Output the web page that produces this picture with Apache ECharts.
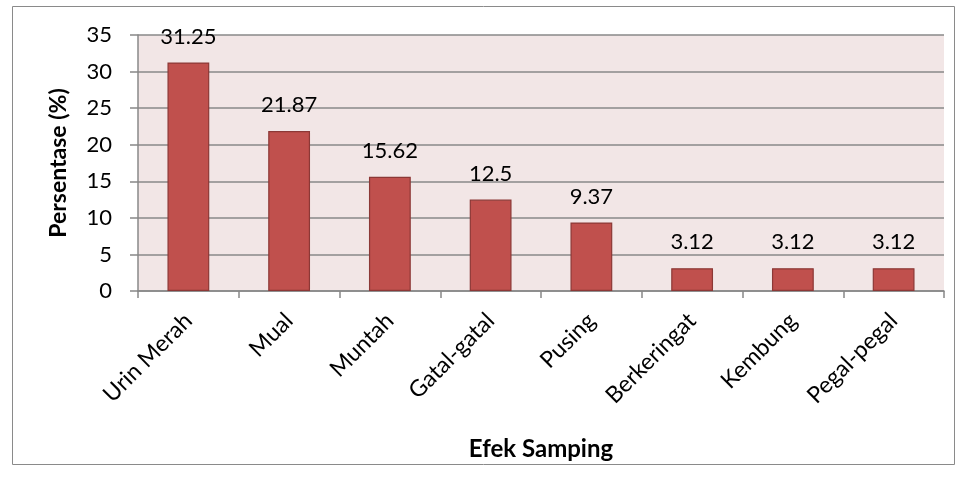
<!DOCTYPE html>
<html><head><meta charset="utf-8">
<script src="https://cdn.jsdelivr.net/npm/echarts@6/dist/echarts.min.js"></script>
<style>html,body{margin:0;padding:0;background:#fff}#c{width:964px;height:495px}</style>
</head><body><div id="c"></div>
<script>
const categories = ["Urin Merah","Mual","Muntah","Gatal-gatal","Pusing","Berkeringat","Kembung","Pegal-pegal"];
const values = [31.25, 21.87, 15.62, 12.5, 9.37, 3.12, 3.12, 3.12];
const yTicks = [0,5,10,15,20,25,30,35];
const FONT = "Lato";
const chart = echarts.init(document.getElementById('c'));
chart.setOption({
  animation: false,
  textStyle: { fontFamily: FONT },
  graphic: [{ type: 'rect', shape: { x: 12.5, y: 6.5, width: 942, height: 458 }, style: { fill: 'none', stroke: '#8a8a8a', lineWidth: 1 }, z: -10 }],
  grid: { left: 138, right: 20, top: 35, bottom: 204, show: true, backgroundColor: '#f2e6e6', borderWidth: 0 },
  xAxis: {
    type: 'category', data: categories, boundaryGap: true,
    name: 'Efek Samping', nameLocation: 'middle', nameGap: 146,
    nameTextStyle: { fontSize: 24, fontWeight: 'bold', color: '#000', fontFamily: FONT },
    axisLine: { lineStyle: { color: '#888', width: 1.5 } },
    axisTick: { show: true, length: 7, alignWithLabel: false, lineStyle: { color: '#888', width: 1.5 } },
    axisLabel: { rotate: 45, fontSize: 23, color: '#000', margin: 26, interval: 0, fontFamily: FONT }
  },
  yAxis: {
    type: 'value', min: 0, max: 35, interval: 5,
    name: 'Persentase (%)', nameLocation: 'middle', nameGap: 68, nameRotate: 90,
    nameTextStyle: { fontSize: 23, fontWeight: 'bold', color: '#000', fontFamily: FONT },
    axisLine: { show: true, lineStyle: { color: '#888', width: 1.5 } },
    axisTick: { show: true, length: 8, lineStyle: { color: '#888', width: 1.5 } },
    axisLabel: { fontSize: 22, color: '#000', margin: 26, fontFamily: FONT,
      formatter: v => yTicks.includes(v) ? String(v) : '' },
    splitLine: { show: true, lineStyle: { color: '#888', width: 1.5 } }
  },
  series: [{
    type: 'bar', data: values, barWidth: '41.5%',
    itemStyle: { color: '#c0504d', borderColor: '#8c3836', borderWidth: 1.2 },
    label: { show: true, position: 'top', distance: 15, fontSize: 22, color: '#000', fontFamily: FONT }
  }]
});
</script></body></html>
